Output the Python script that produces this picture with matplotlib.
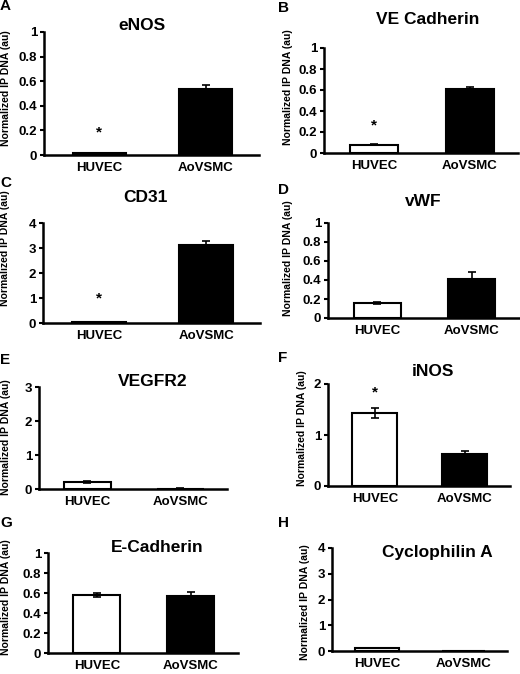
import matplotlib
matplotlib.use("Agg")
import matplotlib.pyplot as plt
from matplotlib import font_manager
import numpy as np

plt.rcParams['font.family'] = ['Liberation Sans', 'DejaVu Sans']
plt.rcParams['font.weight'] = 'bold'

names = {f.name for f in font_manager.fontManager.ttflist}
narrow = 'Liberation Sans Narrow' if 'Liberation Sans Narrow' in names else 'Liberation Sans'

categories = ["HUVEC", "AoVSMC"]
letters = ["A", "B", "C", "D", "E", "F", "G", "H"]
titles = ["eNOS", "VE Cadherin", "CD31", "vWF", "VEGFR2", "iNOS", "E-Cadherin", "Cyclophilin A"]
huvec = [0.015, 0.08, 0.05, 0.16, 0.20, 1.43, 0.58, 0.12]
huvec_err = [0.005, 0.005, 0.01, 0.01, 0.03, 0.09, 0.02, 0.01]
aovsmc = [0.54, 0.61, 3.12, 0.41, 0.01, 0.63, 0.57, 0.005]
aovsmc_err = [0.03, 0.02, 0.18, 0.07, 0.005, 0.05, 0.04, 0.0]
ymax = [1, 1, 4, 1, 3, 2, 1, 4]
ystep = [0.2, 0.2, 1, 0.2, 1, 1, 0.2, 1]
asterisk_y = [0.18, 0.26, 1.0, None, None, 1.84, None, None]
ylabel = "Normalized IP DNA (au)"

W, H = 520, 674
# pixel layout: left, right, top, zero
rects = [(44, 259, 32, 155), (324, 518, 48, 153),
         (43, 260, 223, 323), (328, 519, 223, 318),
         (39, 227, 387, 489), (328, 510, 384, 486),
         (48, 238, 553, 653), (332, 507, 548, 651)]
title_pos = [(142, 25), (428, 20), (145, 198), (423, 202),
             (153, 382), (433, 372), (157, 548), (437, 553)]
letter_pos = [(0, 6), (278, 8), (0, 183), (278, 190),
              (0, 360), (278, 358), (0, 523), (278, 523)]
ylabel_pos = [(6, 88), (288, 87), (5, 248), (288, 258),
              (6, 437), (302, 428), (6, 597), (305, 602)]

fig = plt.figure(figsize=(W / 100, H / 100), dpi=100)

for i in range(8):
    l, r, t, z = rects[i]
    ax = fig.add_axes([l / W, 1 - z / H, (r - l) / W, (z - t) / H])
    x = np.arange(len(categories))
    vals = [huvec[i], aovsmc[i]]
    errs = [huvec_err[i], aovsmc_err[i]]
    ax.bar(x, vals, width=0.5, color=["white", "black"], edgecolor="black",
           linewidth=1.5, zorder=2)
    ax.errorbar(x, vals, yerr=errs, fmt="none", ecolor="black", elinewidth=1.2,
                capsize=3, capthick=1.2, zorder=3)
    ax.set_xlim(-0.52, 1.5)
    ax.set_ylim(0, ymax[i])
    ticks = np.arange(0, ymax[i] + 1e-9, ystep[i])
    ax.set_yticks(ticks)
    ax.set_yticklabels([f"{v:g}" for v in ticks], fontsize=9.5, fontweight="bold")
    ax.set_xticks(x)
    ax.set_xticklabels(categories, fontsize=9.5, fontweight="bold")
    ax.tick_params(axis="x", length=0, pad=5)
    ax.tick_params(axis="y", length=3, width=1.5, pad=2)
    for s in ["top", "right"]:
        ax.spines[s].set_visible(False)
    for s in ["left", "bottom"]:
        ax.spines[s].set_linewidth(1.8)
    ax.patch.set_alpha(0)
    if asterisk_y[i] is not None:
        ax.text(0, asterisk_y[i], "*", ha="center", va="center", fontsize=11,
                fontweight="bold")
    tx, ty = title_pos[i]
    fig.text(tx / W, 1 - ty / H, titles[i], ha="center", va="center",
             fontsize=12.5, fontweight="bold")
    lx, ly = letter_pos[i]
    fig.text(lx / W, 1 - ly / H, letters[i], ha="left", va="center",
             fontsize=11, fontweight="bold")
    yx, yy = ylabel_pos[i]
    fig.text(yx / W, 1 - yy / H, ylabel, ha="center", va="center",
             rotation=90, fontsize=8.3 if narrow != 'Liberation Sans' else 7.5,
             fontweight="bold", family=[narrow, 'Liberation Sans', 'DejaVu Sans'])

fig.savefig("out.png", dpi=100, facecolor="white")
